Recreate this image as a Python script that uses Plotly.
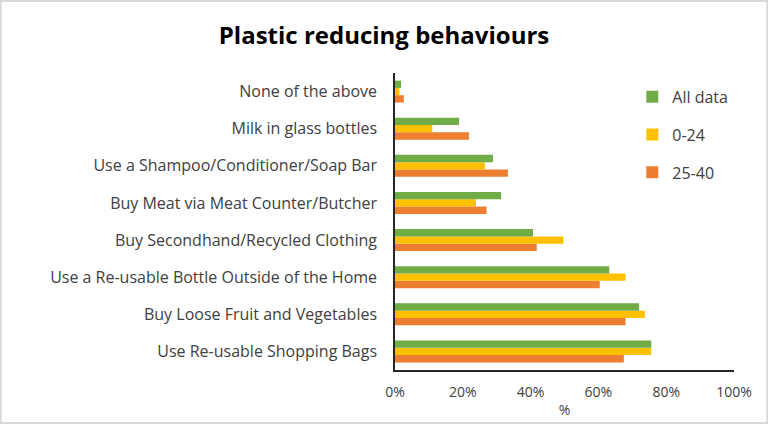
import plotly.graph_objects as go

categories = [
    "Use Re-usable Shopping Bags",
    "Buy Loose Fruit and Vegetables",
    "Use a Re-usable Bottle Outside of the Home",
    "Buy Secondhand/Recycled Clothing",
    "Buy Meat via Meat Counter/Butcher",
    "Use a Shampoo/Conditioner/Soap Bar",
    "Milk in glass bottles",
    "None of the above",
]
all_data = [75.6, 72.0, 63.2, 40.7, 31.3, 28.9, 18.9, 1.8]
age_0_24 = [75.6, 73.7, 68.0, 49.7, 23.9, 26.5, 11.0, 1.3]
age_25_40 = [67.5, 68.0, 60.4, 41.8, 27.0, 33.3, 21.8, 2.6]

font = "Open Sans, Lato, sans-serif"
text_col = "#404040"

fig = go.Figure()
# horizontal groups draw the first trace lowest, so the bottom series goes first
fig.add_trace(go.Bar(y=categories, x=age_25_40, name="25-40", orientation="h",
                     marker_color="#ED7D31", legendgroup="c", legendrank=3))
fig.add_trace(go.Bar(y=categories, x=age_0_24, name="0-24", orientation="h",
                     marker_color="#FFC000", legendgroup="b", legendrank=2))
fig.add_trace(go.Bar(y=categories, x=all_data, name="All data", orientation="h",
                     marker_color="#70AD47", legendgroup="a", legendrank=1))

fig.update_traces(marker_line_width=0)

fig.update_xaxes(range=[0, 100], dtick=20, ticksuffix="%", showgrid=False,
                 showline=True, linecolor="#262626", linewidth=1.5, automargin=False,
                 zeroline=False, ticks="outside", ticklen=8, tickcolor="rgba(0,0,0,0)",
                 title=dict(text="%", standoff=6),
                 tickfont=dict(size=14, color=text_col, family=font),
                 title_font=dict(size=14, color=text_col, family=font))
fig.update_yaxes(showgrid=False, showline=True, linecolor="#262626", linewidth=1.5,
                 automargin=False, ticks="outside", ticklen=13, tickcolor="rgba(0,0,0,0)",
                 tickfont=dict(size=16, color=text_col, family=font))

fig.update_layout(
    width=768, height=424,
    barmode="group", bargap=0.41, bargroupgap=0,
    plot_bgcolor="white", paper_bgcolor="white",
    margin=dict(l=395, r=34, t=73, b=54),
    title=dict(text="<b>Plastic reducing behaviours</b>", x=0.5, xanchor="center",
               y=0.915, yanchor="middle",
               font=dict(size=24, color="black", family=font)),
    legend=dict(x=0.70, y=0.977, xanchor="left", yanchor="top",
                traceorder="grouped", tracegroupgap=14,
                font=dict(size=16, color=text_col, family=font),
                bgcolor="rgba(0,0,0,0)"),
    shapes=[dict(type="rect", xref="paper", yref="paper",
                 x0=-395 / 339 + 0.002, x1=1 + 34 / 339 - 0.002,
                 y0=-54 / 297 + 0.003, y1=1 + 73 / 297 - 0.003,
                 line=dict(color="#D9D9D9", width=2), layer="below")],
)

fig.write_html("out.html", config={"displayModeBar": False},
               post_script="document.body.style.margin='0';")
